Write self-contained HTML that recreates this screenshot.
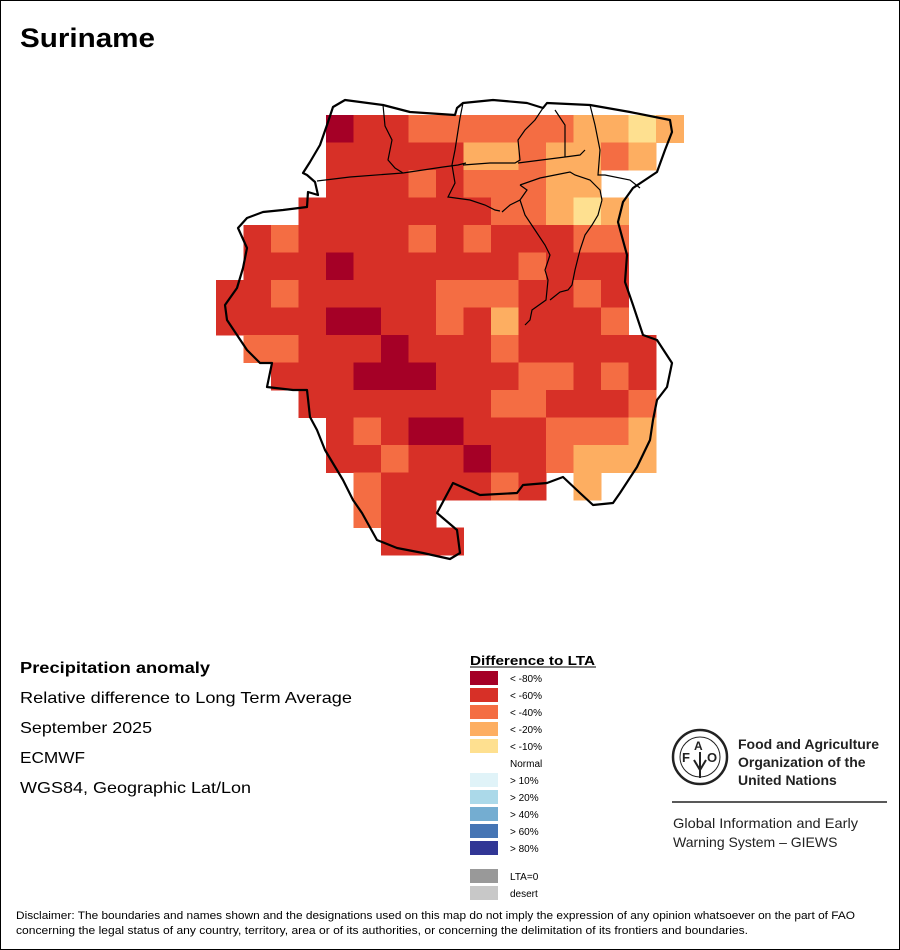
<!DOCTYPE html>
<html><head><meta charset="utf-8"><style>
body{margin:0;background:#fff}
svg{display:block;font-family:"Liberation Sans",sans-serif}
</style></head><body>
<svg width="900" height="950" xmlns="http://www.w3.org/2000/svg">
<rect x="0.5" y="0.5" width="899" height="949" fill="#fff" stroke="#000"/>
<text x="20" y="47" font-size="27" font-weight="bold" textLength="135" lengthAdjust="spacingAndGlyphs">Suriname</text>
<g shape-rendering="crispEdges">
<rect x="326" y="115" width="28" height="28" fill="#a50026"/>
<rect x="353.5" y="115" width="55.5" height="28" fill="#d73027"/>
<rect x="408.5" y="115" width="165.5" height="28" fill="#f46d43"/>
<rect x="573.5" y="115" width="55.5" height="28" fill="#fdae61"/>
<rect x="628.5" y="115" width="28" height="28" fill="#fee090"/>
<rect x="656" y="115" width="28" height="28" fill="#fdae61"/>
<rect x="326" y="142.5" width="138" height="28" fill="#d73027"/>
<rect x="463.5" y="142.5" width="55.5" height="28" fill="#fdae61"/>
<rect x="518.5" y="142.5" width="28" height="28" fill="#f46d43"/>
<rect x="546" y="142.5" width="55.5" height="28" fill="#fdae61"/>
<rect x="601" y="142.5" width="28" height="28" fill="#f46d43"/>
<rect x="628.5" y="142.5" width="28" height="28" fill="#fdae61"/>
<rect x="326" y="170" width="83" height="28" fill="#d73027"/>
<rect x="408.5" y="170" width="28" height="28" fill="#f46d43"/>
<rect x="436" y="170" width="28" height="28" fill="#d73027"/>
<rect x="463.5" y="170" width="83" height="28" fill="#f46d43"/>
<rect x="546" y="170" width="55.5" height="28" fill="#fdae61"/>
<rect x="298.5" y="197.5" width="193" height="28" fill="#d73027"/>
<rect x="491" y="197.5" width="55.5" height="28" fill="#f46d43"/>
<rect x="546" y="197.5" width="28" height="28" fill="#fdae61"/>
<rect x="573.5" y="197.5" width="28" height="28" fill="#fee090"/>
<rect x="601" y="197.5" width="28" height="28" fill="#fdae61"/>
<rect x="243.5" y="225" width="28" height="28" fill="#d73027"/>
<rect x="271" y="225" width="28" height="28" fill="#f46d43"/>
<rect x="298.5" y="225" width="110.5" height="28" fill="#d73027"/>
<rect x="408.5" y="225" width="28" height="28" fill="#f46d43"/>
<rect x="436" y="225" width="28" height="28" fill="#d73027"/>
<rect x="463.5" y="225" width="28" height="28" fill="#f46d43"/>
<rect x="491" y="225" width="83" height="28" fill="#d73027"/>
<rect x="573.5" y="225" width="55.5" height="28" fill="#f46d43"/>
<rect x="243.5" y="252.5" width="83" height="28" fill="#d73027"/>
<rect x="326" y="252.5" width="28" height="28" fill="#a50026"/>
<rect x="353.5" y="252.5" width="165.5" height="28" fill="#d73027"/>
<rect x="518.5" y="252.5" width="28" height="28" fill="#f46d43"/>
<rect x="546" y="252.5" width="83" height="28" fill="#d73027"/>
<rect x="216" y="280" width="55.5" height="28" fill="#d73027"/>
<rect x="271" y="280" width="28" height="28" fill="#f46d43"/>
<rect x="298.5" y="280" width="138" height="28" fill="#d73027"/>
<rect x="436" y="280" width="83" height="28" fill="#f46d43"/>
<rect x="518.5" y="280" width="55.5" height="28" fill="#d73027"/>
<rect x="573.5" y="280" width="28" height="28" fill="#f46d43"/>
<rect x="601" y="280" width="28" height="28" fill="#d73027"/>
<rect x="216" y="307.5" width="110.5" height="28" fill="#d73027"/>
<rect x="326" y="307.5" width="55.5" height="28" fill="#a50026"/>
<rect x="381" y="307.5" width="55.5" height="28" fill="#d73027"/>
<rect x="436" y="307.5" width="28" height="28" fill="#f46d43"/>
<rect x="463.5" y="307.5" width="28" height="28" fill="#d73027"/>
<rect x="491" y="307.5" width="28" height="28" fill="#fdae61"/>
<rect x="518.5" y="307.5" width="83" height="28" fill="#d73027"/>
<rect x="601" y="307.5" width="28" height="28" fill="#f46d43"/>
<rect x="243.5" y="335" width="55.5" height="28" fill="#f46d43"/>
<rect x="298.5" y="335" width="83" height="28" fill="#d73027"/>
<rect x="381" y="335" width="28" height="28" fill="#a50026"/>
<rect x="408.5" y="335" width="83" height="28" fill="#d73027"/>
<rect x="491" y="335" width="28" height="28" fill="#f46d43"/>
<rect x="518.5" y="335" width="138" height="28" fill="#d73027"/>
<rect x="271" y="362.5" width="83" height="28" fill="#d73027"/>
<rect x="353.5" y="362.5" width="83" height="28" fill="#a50026"/>
<rect x="436" y="362.5" width="83" height="28" fill="#d73027"/>
<rect x="518.5" y="362.5" width="55.5" height="28" fill="#f46d43"/>
<rect x="573.5" y="362.5" width="28" height="28" fill="#d73027"/>
<rect x="601" y="362.5" width="28" height="28" fill="#f46d43"/>
<rect x="628.5" y="362.5" width="28" height="28" fill="#d73027"/>
<rect x="298.5" y="390" width="193" height="28" fill="#d73027"/>
<rect x="491" y="390" width="55.5" height="28" fill="#f46d43"/>
<rect x="546" y="390" width="83" height="28" fill="#d73027"/>
<rect x="628.5" y="390" width="28" height="28" fill="#f46d43"/>
<rect x="326" y="417.5" width="28" height="28" fill="#d73027"/>
<rect x="353.5" y="417.5" width="28" height="28" fill="#f46d43"/>
<rect x="381" y="417.5" width="28" height="28" fill="#d73027"/>
<rect x="408.5" y="417.5" width="55.5" height="28" fill="#a50026"/>
<rect x="463.5" y="417.5" width="83" height="28" fill="#d73027"/>
<rect x="546" y="417.5" width="83" height="28" fill="#f46d43"/>
<rect x="628.5" y="417.5" width="28" height="28" fill="#fdae61"/>
<rect x="326" y="445" width="55.5" height="28" fill="#d73027"/>
<rect x="381" y="445" width="28" height="28" fill="#f46d43"/>
<rect x="408.5" y="445" width="55.5" height="28" fill="#d73027"/>
<rect x="463.5" y="445" width="28" height="28" fill="#a50026"/>
<rect x="491" y="445" width="55.5" height="28" fill="#d73027"/>
<rect x="546" y="445" width="28" height="28" fill="#f46d43"/>
<rect x="573.5" y="445" width="83" height="28" fill="#fdae61"/>
<rect x="353.5" y="472.5" width="28" height="28" fill="#f46d43"/>
<rect x="381" y="472.5" width="110.5" height="28" fill="#d73027"/>
<rect x="491" y="472.5" width="28" height="28" fill="#f46d43"/>
<rect x="518.5" y="472.5" width="28" height="28" fill="#d73027"/>
<rect x="573.5" y="472.5" width="28" height="28" fill="#fdae61"/>
<rect x="353.5" y="500" width="28" height="28" fill="#f46d43"/>
<rect x="381" y="500" width="55.5" height="28" fill="#d73027"/>
<rect x="381" y="527.5" width="83" height="28" fill="#d73027"/>
</g>
<g fill="none" stroke="#000" stroke-width="1.2">
<path d="M317,181 L350,177 L403,173 L443,167 L458,165 L466,163 M383,105 L385,126 L392,140 L388,160 L395,168 L403,173 M463,103 L460,118 L455,150 L452,165 L455,183 L448,197 L470,200 L485,205 L495,210 L500,211 M463,165 L490,163 L515,163 L520,160 L518,140 L525,130 L535,120 L543,108 M518,163 L565,157 L580,155 L585,150 M520,185 L540,178 L560,174 L570,172 L575,175 L590,180 L600,190 L602,200 M565,157 L565,125 L555,110 M590,105 L595,125 L600,150 L598,175 L605,175 L630,180 L640,188 M502,212 L510,205 L520,200 L527,190 L520,185 M520,200 L525,215 L535,230 L545,245 L550,255 L545,270 L548,280 L546,300 L532,310 L530,320 L525,325 M602,200 L598,215 L592,225 L585,235 L580,250 L575,270 L572,285 L568,290 L560,292 L550,300"/>
</g>
<path fill="none" stroke="#000" stroke-width="2.2" stroke-linejoin="round" d="M345,100 L383,105 L410,112 L455,115 L457,108 L463,103 L493,100 L527,103 L543,108 L547,103 L590,105 L630,112 L670,120 L672,132 L665,150 L657,172 L633,188 L623,202 L618,222 L627,255 L625,282 L633,305 L643,335 L657,340 L672,363 L667,387 L657,400 L653,420 L650,440 L637,467 L620,493 L613,503 L593,505 L580,493 L563,477 L547,483 L523,485 L517,493 L480,495 L453,483 L437,513 L457,530 L460,553 L450,559 L423,553 L397,548 L377,540 L362,513 L353,500 L343,480 L337,470 L325,450 L317,430 L310,417 L307,390 L293,390 L267,387 L272,363 L260,363 L247,350 L227,320 L225,305 L237,288 L243,268 L247,248 L238,228 L247,218 L263,212 L283,210 L307,207 L308,192 L318,195 L315,182 L307,175 L303,173 L310,162 L320,145 L327,125 L333,107 Z"/>
<g font-size="16">
<text x="20" y="673" font-weight="bold" textLength="190" lengthAdjust="spacingAndGlyphs">Precipitation anomaly</text>
<text x="20" y="703" textLength="332" lengthAdjust="spacingAndGlyphs">Relative difference to Long Term Average</text>
<text x="20" y="733" textLength="132" lengthAdjust="spacingAndGlyphs">September 2025</text>
<text x="20" y="763" textLength="65" lengthAdjust="spacingAndGlyphs">ECMWF</text>
<text x="20" y="793" textLength="231" lengthAdjust="spacingAndGlyphs">WGS84, Geographic Lat/Lon</text>
</g>
<text x="470" y="665" font-size="13" font-weight="bold" textLength="125" lengthAdjust="spacingAndGlyphs">Difference to LTA</text>
<line x1="470" y1="667" x2="596" y2="667" stroke="#000" stroke-width="1"/>
<g font-size="10">
<rect x="470" y="671" width="28" height="14" fill="#a50026"/><text x="510" y="682">&lt; -80%</text>
<rect x="470" y="688" width="28" height="14" fill="#d73027"/><text x="510" y="699">&lt; -60%</text>
<rect x="470" y="705" width="28" height="14" fill="#f46d43"/><text x="510" y="716">&lt; -40%</text>
<rect x="470" y="722" width="28" height="14" fill="#fdae61"/><text x="510" y="733">&lt; -20%</text>
<rect x="470" y="739" width="28" height="14" fill="#fee090"/><text x="510" y="750">&lt; -10%</text>
<text x="510" y="767">Normal</text>
<rect x="470" y="773" width="28" height="14" fill="#e0f3f8"/><text x="510" y="784">&gt; 10%</text>
<rect x="470" y="790" width="28" height="14" fill="#abd9e9"/><text x="510" y="801">&gt; 20%</text>
<rect x="470" y="807" width="28" height="14" fill="#74add1"/><text x="510" y="818">&gt; 40%</text>
<rect x="470" y="824" width="28" height="14" fill="#4575b4"/><text x="510" y="835">&gt; 60%</text>
<rect x="470" y="841" width="28" height="14" fill="#313695"/><text x="510" y="852">&gt; 80%</text>
<rect x="470" y="869" width="28" height="14" fill="#999"/><text x="510" y="880">LTA=0</text>
<rect x="470" y="886" width="28" height="14" fill="#c8c8c8"/><text x="510" y="897">desert</text>
</g>
<g>
<circle cx="700" cy="757" r="27" fill="none" stroke="#222" stroke-width="2.5"/>
<circle cx="700" cy="757" r="20" fill="none" stroke="#222" stroke-width="1"/>
<text x="682" y="762" font-size="13" font-weight="bold" fill="#222">F</text>
<text x="694" y="750" font-size="12" font-weight="bold" fill="#222">A</text>
<text x="707" y="762" font-size="13" font-weight="bold" fill="#222">O</text>
<path d="M700,752 L700,778 M694,760 L700,770 L706,760" stroke="#222" stroke-width="2" fill="none"/>
<text x="738" y="749" font-size="14" font-weight="bold" fill="#222">Food and Agriculture</text>
<text x="738" y="767" font-size="14" font-weight="bold" fill="#222">Organization of the</text>
<text x="738" y="785" font-size="14" font-weight="bold" fill="#222">United Nations</text>
<line x1="672" y1="802" x2="887" y2="802" stroke="#222" stroke-width="1.5"/>
<text x="673" y="828" font-size="14" fill="#222" textLength="185" lengthAdjust="spacingAndGlyphs">Global Information and Early</text>
<text x="673" y="847" font-size="14" fill="#222">Warning System – GIEWS</text>
</g>
<text x="16" y="919" font-size="11" textLength="839" lengthAdjust="spacingAndGlyphs">Disclaimer: The boundaries and names shown and the designations used on this map do not imply the expression of any opinion whatsoever on the part of FAO</text>
<text x="16" y="934" font-size="11" textLength="732" lengthAdjust="spacingAndGlyphs">concerning the legal status of any country, territory, area or of its authorities, or concerning the delimitation of its frontiers and boundaries.</text>
</svg>
</body></html>
